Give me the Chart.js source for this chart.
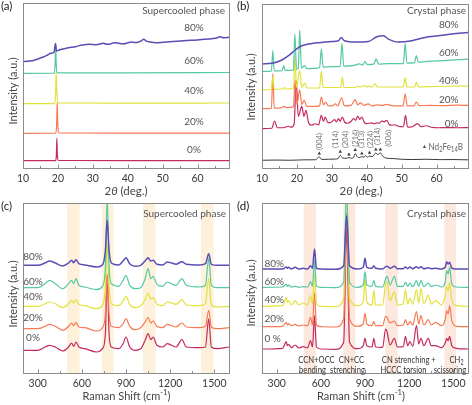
<!DOCTYPE html>
<html>
<head>
<meta charset="utf-8">
<script src="https://cdn.jsdelivr.net/npm/chart.js@4.4.1/dist/chart.umd.min.js"></script>
<style>
  html, body { margin:0; padding:0; background:#fff; }
  body { width:472px; height:405px; position:relative; overflow:hidden; }
  canvas { position:absolute; }
</style>
</head>
<body>
<canvas id="chartA" width="236" height="200" style="left:0;top:0"></canvas>
<canvas id="chartB" width="236" height="200" style="left:236px;top:0"></canvas>
<canvas id="chartC" width="236" height="205" style="left:0;top:200px"></canvas>
<canvas id="chartD" width="236" height="205" style="left:236px;top:200px"></canvas>
<script>
const FONT = 'Lato, "Open Sans", sans-serif';

// ---------- series names / colours ----------
const seriesNames = ['80%', '60%', '40%', '20%', '0%'];
const seriesColors = ['#5b4db5', '#55c9a1', '#e2e23a', '#f87a55', '#c42a62'];

// ---------- tick labels ----------
const xrdTicks = [10, 20, 30, 40, 50, 60];
const ramanTicks = [300, 600, 900, 1200, 1500];

// ---------- (a) XRD, supercooled phase: [2theta, intensity] ----------
const xrdA80 = [[10,106.3],[11,106.7],[12,107],[13,107.6],[14,108.7],[15,110],[16,111.3],[17,113],[18,114.7],[18.9,116],[19.3,124.5],[19.6,117],[20.5,118.3],[21.5,119],[23,120.3],[25,121.3],[27,123],[29,123.7],[31,123.3],[33,124.7],[34,123.8],[35,124],[36,125.2],[37,125],[38,124.3],[39,124.3],[40,125.2],[41,126],[42,125.5],[43,125.7],[44,127.5],[44.6,128.7],[45.3,126.8],[46,126.3],[48,125.3],[50,125.7],[52,126.3],[54,126.7],[56,127.3],[58,127.7],[60,128],[62,128.7],[64,129.3],[65.5,130],[66.3,131.3],[67.5,130.3],[69,130.7]];
const xrdA60 = [[10,94.7],[19.0,94.8],[19.2,105],[19.35,124.5],[19.5,105],[19.9,95.2],[40,95.2],[69,95.5]];
const xrdA40 = [[10,64.3],[19.1,64.4],[19.35,75],[19.5,96],[19.7,76],[20.1,65],[40,64.8],[69,65]];
const xrdA20 = [[10,34.7],[19.4,34.8],[19.65,45],[19.8,66],[19.95,45],[20.3,35],[40,34.8],[69,34.9]];
const xrdA0  = [[10,7.3],[19.3,7.3],[19.55,12],[19.7,30],[19.85,12],[20.2,7.5],[40,7.4],[69,7.3]];

// ---------- (b) XRD, crystal phase ----------
const xrdB80 = [[10,104.7],[12.9,105.3],[15.7,108.7],[17.6,113],[19.5,118.7],[21.4,123],[24.3,125.3],[27.1,126.3],[30,127.3],[31.9,128],[32.7,131.3],[33.6,128],[36.7,126.7],[40.5,127.3],[42.9,132],[44.8,133],[46.2,129.7],[49,126.7],[52.9,128],[56.7,131.3],[60.5,133],[64.3,134.7],[69,136.3]];
const xrdB60 = [[10,97.3],[12.7,97.5],[13.1,118],[13.5,97.8],[15.8,98],[16.2,103],[16.6,98.2],[19,98.5],[19.4,134.7],[19.9,99.5],[20.4,100],[20.8,138.7],[21.3,100.5],[22.2,103],[22.8,100],[26.5,101],[27,119.7],[27.5,101.5],[30,102],[32.4,102],[32.9,125.3],[33.4,102.5],[36,103],[37.9,104.7],[38.8,103.5],[39.5,107],[40.2,104],[42,104.5],[42.7,109.7],[43.4,104.5],[46,105],[50.5,105],[51,125.3],[51.5,105.5],[53.7,106],[54.2,113],[54.8,106.5],[58,107.5],[62,108],[66,109],[69,109.5]];
const xrdB40 = [[10,78.7],[12.7,79],[13.1,92],[13.5,79.2],[16,79.5],[16.4,81],[17,79.5],[19,80],[19.4,112],[19.9,81],[20.8,98],[21.4,81],[22.2,85.3],[22.9,80.5],[26.5,80.5],[27,97.3],[27.5,81],[30,81],[32.5,81],[33,91.3],[33.5,81],[36.5,81],[37.5,82.5],[38.1,81.5],[39.3,83],[40,81.5],[40.5,82.3],[41.5,81.5],[42.4,84.7],[43,81.5],[47,81.5],[50.5,81.5],[51,90.7],[51.5,81.5],[53.7,81.5],[54.2,86.3],[54.8,81.5],[60,82],[65,82.3],[69,82.5]];
const xrdB20 = [[10,59.7],[12.7,60],[13.1,95],[13.5,60.2],[15.5,60.5],[16.3,62],[17,60.8],[19,61.5],[19.5,89],[20,64],[20.8,78.7],[21.4,64],[22.1,68],[22.8,62],[25,62],[26.5,62.5],[27,71.3],[27.6,63.5],[28.2,66.3],[29,62.5],[30.2,62.5],[31,64.5],[31.7,62.5],[32.8,70.7],[33.6,62.5],[35.5,63],[36.7,68.7],[37.4,63.5],[38.2,65.5],[39.2,63],[40.4,64.5],[41.5,62.5],[43,63.5],[44.5,63],[45.7,64],[47.5,62.5],[50.4,62.5],[51,74.7],[51.6,62.5],[53.5,62.5],[54.2,66.3],[55,62.8],[58,63],[62,62.8],[66,63.2],[69,63]];
const xrdB0 = [[10,39.7],[12.8,40],[13.6,47.3],[14.4,40.5],[16,40.5],[17.6,42],[18.3,41],[19.2,44],[19.8,88],[20.4,52],[21.4,62],[22,52],[22.6,58],[23.3,46],[24.2,43],[25.2,44.5],[26.2,43.5],[27,53],[27.6,47],[28.1,51.3],[28.8,46],[29.5,45.5],[30.8,48.7],[31.3,46.5],[31.9,49.7],[32.4,47],[33,51.3],[33.7,46],[34.5,45],[35.4,46.5],[36.2,49.7],[36.8,48],[37.4,52],[38,49],[38.6,51.3],[39.3,46],[40,44.7],[41.4,45.3],[42.2,44.5],[42.9,45.5],[43.6,45],[44.3,47.3],[45,46.5],[45.7,48],[46.4,44],[47.1,43],[48,43.5],[49,42],[50.5,41.5],[51.1,53],[51.7,41],[53,41.5],[54.6,44.7],[55.5,41.5],[57.1,42.5],[58.5,41],[60.5,40.5],[63,40.7],[66,40.5],[69,40.7]];
const xrdRef = [[10,7.8],[14,8],[18,7.8],[22,8.2],[25.4,8.3],[26.4,11.2],[27.1,8.6],[29,8.8],[31,9],[31.8,9.5],[32.4,12.8],[33.1,10],[34.3,9.8],[34.9,10.5],[35.6,9.8],[36.2,10.3],[36.7,14.5],[37.4,10.8],[38,10.5],[38.6,11.5],[39.2,10.8],[39.7,12.5],[40.2,10.8],[40.8,12],[41.6,11.5],[42.6,15],[43.2,13.5],[43.9,15.2],[44.7,11.5],[45.5,10],[47.5,9.5],[50,8.8],[53,8.5],[57,8.8],[61,8.4],[65,8.5],[69,8.2]];
const refMarks = [[26.4,14.7],[32.4,16.3],[34.9,13.7],[36.7,18],[38.6,14.7],[40.8,15.3],[42.6,18.7],[43.9,18.7]];
const hklNames = ['(004)', '(114)', '(204)', '(214)', '(313)', '(224)', '(314)', '(006)'];
const hklPos = [26.4, 31.1, 33.9, 36.7, 38.6, 41.0, 43.1, 46.3];

// ---------- (c) Raman, supercooled phase ----------
const ramanXC = [200,300,350,380,420,470,510,530,545,560,580,620,700,740,760,772,785,800,850,880,900,925,960,1000,1030,1050,1068,1085,1110,1150,1180,1210,1240,1280,1310,1400,1440,1462,1480,1520,1600];
const ramanC80 = [107.7,107.7,110,112,110,107,110,112.7,110.3,113.3,109.3,108,106,108,122.7,152.7,122.7,110,108,112,115.3,109.3,106.7,107.7,112,115.3,112,112.7,108.7,108,111,110,108.7,111.3,108.7,108,109.3,119.3,108.7,107.7,107.7];
const ramanC60 = [85.3,85.3,89.3,92.7,89.3,84.3,89.3,92.7,89.3,94.3,87.7,86,83.3,86.7,106,176,106,89.3,86.7,92.7,97.7,87.7,84.3,85.3,94.3,104.3,94.3,96.7,88.7,86.7,91,89.3,87.7,94.3,87.7,86,87.7,114.3,87.7,85.3,85.3];
const ramanC40 = [66.7,66.7,69.3,71,69.3,65.3,69.3,72.7,70,73.3,68.7,67.3,64.3,67.3,86,129.3,86,69.3,67.3,72,76.7,68.7,65.3,67.3,73.3,80,74,75.3,68.7,67.3,71,70,68.7,73.3,68,67.3,69.3,94.3,68,66,66.7];
const ramanC20 = [44.3,44.3,46.7,48.7,46.7,42.7,46.7,50,47.3,50.7,46,45.3,42,45.3,59.3,99.3,59.3,46.7,45.3,49.3,54.3,46.7,43.3,45.3,51,55.3,50,52,46.7,45.3,48.7,47.3,46,50,46,45.3,46.7,62.7,46,44.3,45.3];
const ramanC0 = [22.7,22.7,26,27.7,26,22,26,30,26.7,31,26,24.3,21,24.3,39.3,97.7,39.3,26,24.3,29.3,36,26,22.7,24.3,32.7,39.3,33.3,36,27.7,26,29.3,27.7,26,33.3,26,25.3,26,54.3,26,24.3,26];
const bandsC = [[500,585],[735,815],[1015,1100],[1410,1495]];

// ---------- (d) Raman, crystal phase ----------
const ramanXD = [200,340,365,372,380,400,425,450,480,510,530,543,557,570,600,700,755,775,795,850,888,900,912,948,960,972,1020,1040,1050,1070,1100,1120,1160,1175,1190,1205,1225,1250,1265,1280,1300,1330,1350,1380,1420,1445,1455,1465,1475,1490,1520,1600];
const ramanD80 = [104,104,106,104.7,105.7,104,105.7,104,104.7,104,107.3,104.7,124,104.7,104,103.7,107.3,157.3,107.3,104,105.7,114.7,105.7,104.7,107.3,104.7,104,106.3,106.7,104.7,106.7,104.3,104.3,106,104.3,106,104.3,106.3,104.7,106.3,104.3,105.3,104.3,104.7,104,105.7,111.3,109,110.7,104.7,104,104];
const ramanD60 = [85.7,86,88.7,86.7,88,86,86.7,85.7,86.3,86,91.3,86.7,112.3,86.7,85.7,85.3,90.7,184,90.7,85.7,88,101.3,88,86.7,92.3,86.7,86,94,96.7,88,96.7,86.7,86.7,90.7,86.7,90,86.3,92.3,86.7,92.3,86.3,90,86.3,88,86,90.7,102.3,99,105.7,89,86,85.7];
const ramanD40 = [66.7,67.3,75.7,70.7,72.3,68,72.3,68,70,68,77.3,69,99,69,66.7,66.3,74.7,184,74.7,67.3,70.7,94.7,70.7,68,82.3,68,68,89,91.3,72.3,81.3,68,69,83.3,69,74.7,68.7,83.3,70,84.7,69.3,78,69,72.3,68,77.3,86.7,82.3,90,72.3,67.3,66.7];
const ramanD20 = [46.3,46.7,50.7,48,49.3,47.3,48.7,47,48,47.3,55.7,48,80,48,46.3,46,54,160.7,54,46.7,49,59.7,49,47.3,51.3,47.3,47.3,56.7,55.7,50,52,47.3,48,53.3,48,51.3,48,61.3,49,57.3,48,53.3,48,50.7,47.3,53.3,62.3,59,67.3,52.3,46.7,46.3];
const ramanD0 = [24,24.7,31.3,27.3,28.7,25.3,28,25,26.3,25.3,32.3,26,57.3,26,24,23.7,30.7,144,30.7,24.3,27.3,34.7,27.3,26,34.7,26,25.7,44,41.3,28,34.7,26,26.3,36.7,27.3,31.3,26.7,47.3,29,34.7,27.3,34.7,27.3,27.3,25.3,30,34.7,32.3,36.7,27.3,24.7,24];
const bandsD = [[483,567],[753,834],[1038,1122],[1440,1519]];

// ---------- helpers ----------
const xy = arr => arr.map(p => ({ x: p[0], y: p[1] }));
const zipXY = (xs, ys) => xs.map((x, i) => ({ x, y: ys[i] }));

function series(list) {
  return list.map((d, i) => ({
    label: seriesNames[i], data: d, borderColor: seriesColors[i],
    borderWidth: i === 0 ? 1.5 : 1.2, fill: false
  }));
}

// text with _{sub}, ^{sup}, *italic*; sx squeezes it horizontally (Calibri is narrow)
function drawRich(ctx, d, xs) {
  const size = d.size || 10;
  const parts = d.t.split(/(\^\{[^}]*\}|_\{[^}]*\}|\*[^*]+\*)/).filter(s => s);
  const segs = parts.map(p => {
    let txt = p, sz = size, dy = 0, style = '';
    if (p.startsWith('^{')) { txt = p.slice(2, -1); sz = size * 0.7; dy = -size * 0.35; }
    else if (p.startsWith('_{')) { txt = p.slice(2, -1); sz = size * 0.7; dy = size * 0.28; }
    else if (p.startsWith('*')) { txt = p.slice(1, -1); style = 'italic '; }
    const font = `${style}${sz}px ${FONT}`;
    ctx.font = font;
    return { txt, font, dy, w: ctx.measureText(txt).width };
  });
  const total = segs.reduce((s, g) => s + g.w, 0);
  const px = d.xv !== undefined ? xs.getPixelForValue(d.xv) : d.x;
  ctx.save();
  ctx.translate(px, d.y);
  if (d.rot) ctx.rotate(d.rot);
  if (d.sx) ctx.scale(d.sx, 1);
  let cx = d.align === 'left' ? 0 : d.align === 'right' ? -total : -total / 2;
  ctx.fillStyle = d.color || '#444';
  ctx.textBaseline = 'middle';
  ctx.textAlign = 'left';
  segs.forEach(g => { ctx.font = g.font; ctx.fillText(g.txt, cx, g.dy); cx += g.w; });
  ctx.restore();
}

const panelDecor = {
  id: 'panelDecor',
  beforeDatasetsDraw(chart, args, opts) {
    const { ctx, chartArea: a, scales: { x } } = chart;
    ctx.save();
    ctx.fillStyle = opts.bandColor || '#fff';
    (opts.bands || []).forEach(b => {
      const x0 = x.getPixelForValue(b[0]), x1 = x.getPixelForValue(b[1]);
      ctx.fillRect(x0, a.top, x1 - x0, a.bottom - a.top);
    });
    ctx.restore();
  },
  afterDraw(chart, args, opts) {
    const { ctx, chartArea: a, scales: { x } } = chart;
    ctx.save();
    ctx.strokeStyle = '#8c8c8c';
    ctx.lineWidth = 1;
    ctx.strokeRect(Math.round(a.left) + 0.5, Math.round(a.top) + 0.5, Math.round(a.right - a.left), Math.round(a.bottom - a.top));
    const t = opts.ticks;
    for (let v = Math.ceil(x.min / t.minor) * t.minor; v <= x.max; v += t.minor) {
      const px = Math.round(x.getPixelForValue(v)) + 0.5;
      const len = v % t.major === 0 ? 3.5 : 2;
      ctx.beginPath(); ctx.moveTo(px, a.bottom); ctx.lineTo(px, a.bottom - len); ctx.stroke();
    }
    (opts.texts || []).forEach(d => drawRich(ctx, d, x));
    ctx.restore();
  }
};

function makePanel(id, cfg) {
  return new Chart(document.getElementById(id), {
    type: 'line',
    data: { datasets: cfg.datasets },
    options: {
      responsive: false, animation: false, devicePixelRatio: 1,
      layout: { padding: cfg.pad },
      elements: { point: { radius: 0 }, line: { cubicInterpolationMode: 'monotone' } },
      plugins: { legend: { display: false }, tooltip: { enabled: false }, panelDecor: cfg.decor },
      scales: {
        x: {
          type: 'linear', min: cfg.xMin, max: cfg.xMax,
          afterBuildTicks: s => { s.ticks = cfg.ticks.map(v => ({ value: v })); },
          afterFit: s => { s.height = cfg.xh; },
          grid: { display: false, drawTicks: false }, border: { display: false },
          ticks: { color: '#3a3a3a', font: { family: FONT, size: 10.5 }, padding: 4, autoSkip: false, maxRotation: 0,
                   callback: v => String(v) }
        },
        y: { display: false, min: 0, max: cfg.yMax }
      }
    },
    plugins: [panelDecor]
  });
}

const pctText = (xs, ys, align) => seriesNames.map((n, i) => ({ t: n, x: xs, y: ys[i], size: 10, align, color: '#555' }));
const note = (t, x, y) => ({ t, x, y, size: 9.5, sx: 0.8, color: '#333' });

// (a)
makePanel('chartA', {
  datasets: series([xy(xrdA80), xy(xrdA60), xy(xrdA40), xy(xrdA20), xy(xrdA0)]),
  pad: { left: 23, right: 7, top: 3, bottom: 0 }, xh: 32, xMin: 10, xMax: 69, yMax: 165, ticks: xrdTicks,
  decor: {
    ticks: { major: 10, minor: 5 },
    texts: [
      { t: '(a)', x: 1, y: 6.5, size: 11.5, align: 'left', color: '#222' },
      { t: 'Supercooled phase', x: 225, y: 11, size: 10, align: 'right', color: '#555' },
      ...pctText(194, [27.5, 61, 91, 122, 150], 'center'),
      { t: 'Intensity (a.u.)', x: 13.7, y: 90.8, size: 11, rot: -Math.PI / 2, color: '#444' },
      { t: '2*θ* (deg.)', x: 126, y: 191, size: 11.5, color: '#444' }
    ]
  }
});

// (b)
const hklBottom = [150, 148, 148, 146.7, 148, 148, 145, 146.7];
makePanel('chartB', {
  datasets: [
    ...series([xy(xrdB80), xy(xrdB60), xy(xrdB40), xy(xrdB20), xy(xrdB0)]),
    { label: 'Nd2Fe14B', data: xy(xrdRef), borderColor: '#3a3a3a', borderWidth: 1 },
    { label: 'marks', data: xy(refMarks), showLine: false, pointStyle: 'triangle', pointRadius: 2,
      pointBackgroundColor: '#333', pointBorderColor: '#333', pointBorderWidth: 0 }
  ],
  pad: { left: 26, right: 4, top: 3, bottom: 0 }, xh: 32, xMin: 10, xMax: 69, yMax: 165, ticks: xrdTicks,
  decor: {
    ticks: { major: 10, minor: 5 },
    texts: [
      { t: '(b)', x: 1, y: 6.5, size: 11.5, align: 'left', color: '#222' },
      { t: 'Crystal phase', x: 230, y: 11, size: 10, align: 'right', color: '#555' },
      ...pctText(222.5, [24.5, 52.5, 81, 100, 124], 'right'),
      ...hklNames.map((n, i) => ({ t: n, xv: hklPos[i], y: hklBottom[i], size: 7.5, align: 'left', rot: -Math.PI / 2, color: '#777' })),
      { t: '▲', x: 188.5, y: 146.5, size: 5.5, color: '#555' },
      { t: 'Nd_{2}Fe_{14}B', x: 192.5, y: 147, size: 9.5, sx: 0.86, align: 'left', color: '#666' },
      { t: 'Intensity (a.u.)', x: 15.8, y: 87, size: 11, rot: -Math.PI / 2, color: '#444' },
      { t: '2*θ* (deg.)', x: 125, y: 191, size: 11.5, color: '#444' }
    ]
  }
});

// (c)
makePanel('chartC', {
  datasets: series([ramanC80, ramanC60, ramanC40, ramanC20, ramanC0].map(ys => zipXY(ramanXC, ys))),
  pad: { left: 23, right: 7, top: 3, bottom: 0 }, xh: 32, xMin: 200, xMax: 1600, yMax: 170, ticks: ramanTicks,
  decor: {
    bands: bandsC, bandColor: '#fdf1db',
    ticks: { major: 300, minor: 150 },
    texts: [
      { t: '(c)', x: 1, y: 6.5, size: 11.5, align: 'left', color: '#222' },
      { t: 'Supercooled phase', x: 226, y: 13.3, size: 10, align: 'right', color: '#555' },
      ...pctText(33, [56.7, 81.7, 97, 118, 138], 'center'),
      { t: 'Intensity (a.u.)', x: 13.3, y: 94, size: 11, rot: -Math.PI / 2, color: '#444' },
      { t: 'Raman Shift (cm^{-1})', x: 126.5, y: 196, size: 11, color: '#444' }
    ]
  }
});

// (d)
makePanel('chartD', {
  datasets: series([ramanD80, ramanD60, ramanD40, ramanD20, ramanD0].map(ys => zipXY(ramanXD, ys))),
  pad: { left: 26, right: 4, top: 3, bottom: 0 }, xh: 32, xMin: 200, xMax: 1600, yMax: 170, ticks: ramanTicks,
  decor: {
    bands: bandsD, bandColor: '#fce8dd',
    ticks: { major: 300, minor: 150 },
    texts: [
      { t: '(d)', x: 1, y: 6.5, size: 11.5, align: 'left', color: '#222' },
      { t: 'Crystal phase', x: 230, y: 13.3, size: 10, align: 'right', color: '#555' },
      ...pctText(28.5, [63.3, 81.7, 100, 118.3, 138.3], 'left').map((d, i) => i === 4 ? { ...d, t: '0 %' } : d),
      note('CCN+OCC', 80.5, 160), note('bending', 76.5, 169.5),
      note('CN+CC', 115.5, 160), note('strenching', 111.5, 169.5),
      note('CN strenching +', 172.8, 160), note('HCCC torsion', 167.5, 169.5),
      note('CH_{2}', 220.5, 160), note('scissoring', 214, 169.5),
      { t: 'Intensity (a.u.)', x: 15.8, y: 93, size: 11, rot: -Math.PI / 2, color: '#444' },
      { t: 'Raman Shift (cm^{-1})', x: 125, y: 196, size: 11, color: '#444' }
    ]
  }
});
</script>
</body>
</html>
